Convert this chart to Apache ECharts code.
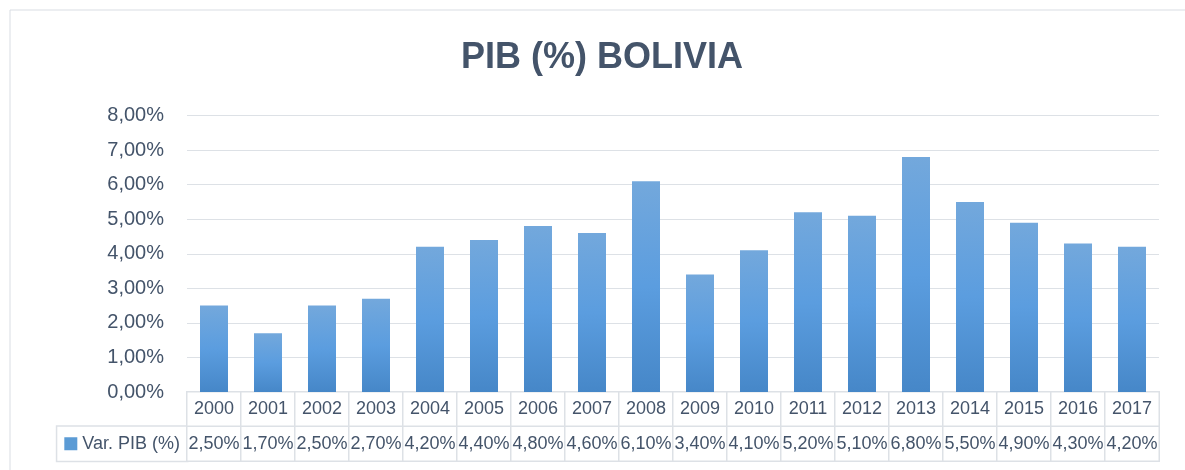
<!DOCTYPE html>
<html>
<head>
<meta charset="utf-8">
<script src="https://cdn.jsdelivr.net/npm/echarts@6/dist/echarts.min.js"></script>
<style>
  html, body { margin: 0; padding: 0; background: #fff; }
  #chart { width: 1185px; height: 470px; }
</style>
</head>
<body>
<div id="chart"></div>
<script>
const years = ["2000", "2001", "2002", "2003", "2004", "2005", "2006", "2007", "2008",
  "2009", "2010", "2011", "2012", "2013", "2014", "2015", "2016", "2017"];
const pibVar = [2.5, 1.7, 2.5, 2.7, 4.2, 4.4, 4.8, 4.6, 6.1, 3.4, 4.1, 5.2, 5.1, 6.8, 5.5, 4.9, 4.3, 4.2];
const seriesName = "Var. PIB (%)";
const tableRows = ["", seriesName];

const textColor = "#44546a";
const lineColor = "#dde1e6";
const fontFamily = "'Liberation Sans', Arial, sans-serif";

const fmtPct = (v) => v.toFixed(2).replace(".", ",") + "%";

// cells of the data table: row 0 = years, row 1 = values
const cells = [];
years.forEach((y, i) => {
  cells.push([i, 0, 0]);
  cells.push([i, 1, 0]);
});

const chart = echarts.init(document.getElementById("chart"));

const options = {
  animation: false,
  textStyle: { fontFamily: fontFamily },
  title: {
    text: "PIB (%) BOLIVIA",
    left: 461,
    top: 40,
    padding: 0,
    textStyle: {
      color: textColor,
      fontSize: 36,
      fontWeight: "bold",
      fontFamily: fontFamily,
    },
  },
  graphic: [
    {
      type: "rect",
      shape: { x: 10, y: 10, width: 1200, height: 500 },
      style: { fill: "none", stroke: "#d9dde3", lineWidth: 1 },
      silent: true,
    },
  ],
  grid: [
    { left: 187, right: 26, top: 115.5, height: 276.5 },
    { left: 187, right: 26, top: 392, height: 69 },
  ],
  xAxis: [
    {
      type: "category",
      gridIndex: 0,
      data: years,
      axisLine: { show: false },
      axisTick: { show: false },
      axisLabel: { show: false },
    },
    {
      type: "category",
      gridIndex: 1,
      data: years,
      show: false,
    },
  ],
  yAxis: [
    {
      type: "value",
      gridIndex: 0,
      min: 0,
      max: 8,
      interval: 1,
      axisLine: { show: false },
      axisTick: { show: false },
      splitLine: { lineStyle: { color: lineColor, width: 1.2 } },
      axisLabel: {
        margin: 23,
        color: textColor,
        fontSize: 20,
        formatter: fmtPct,
      },
    },
    {
      type: "category",
      gridIndex: 1,
      data: tableRows,
      inverse: true,
      axisLine: { show: false },
      axisTick: { show: false },
      splitLine: { show: false },
      axisLabel: {
        interval: (index) => index === 1,
        margin: 0,
        padding: [8, 7, 8, 7],
        borderColor: lineColor,
        borderWidth: 1.5,
        backgroundColor: "#fff",
        formatter: (v) => "{sq|}{t|" + v + "}",
        rich: {
          sq: {
            width: 13,
            height: 13,
            backgroundColor: "#5b9bd5",
          },
          t: {
            color: textColor,
            fontSize: 18,
            lineHeight: 18,
            padding: [0, 0, 0, 5],
          },
        },
      },
    },
  ],
  series: [
    {
      name: seriesName,
      type: "bar",
      xAxisIndex: 0,
      yAxisIndex: 0,
      barWidth: 28,
      data: pibVar,
      itemStyle: {
        color: new echarts.graphic.LinearGradient(0, 0, 0, 1, [
          { offset: 0, color: "#73a8dc" },
          { offset: 0.5, color: "#5b9ddf" },
          { offset: 1, color: "#4687c8" },
        ]),
      },
    },
    {
      type: "heatmap",
      xAxisIndex: 1,
      yAxisIndex: 1,
      data: cells,
      itemStyle: {
        color: "#fff",
        borderColor: lineColor,
        borderWidth: 1.5,
      },
      label: {
        show: true,
        color: textColor,
        fontSize: 18,
        formatter: (p) => {
          const i = p.data[0];
          return p.data[1] === 0 ? years[i] : fmtPct(pibVar[i]);
        },
      },
      emphasis: { disabled: true },
    },
  ],
};

chart.setOption(options);
window.addEventListener("resize", () => {
  chart.resize();
});
</script>
</body>
</html>
